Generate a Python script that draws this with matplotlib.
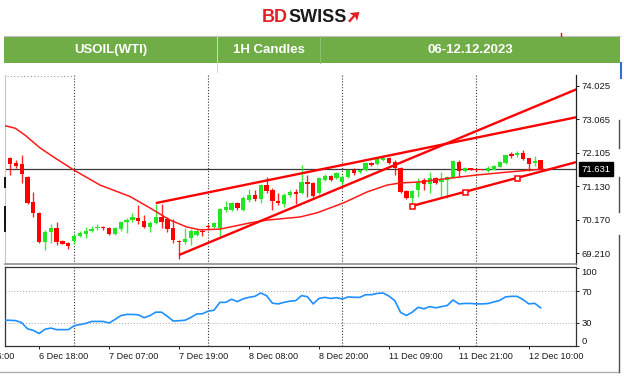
import matplotlib.pyplot as plt
from matplotlib.lines import Line2D
from matplotlib.patches import Rectangle, Polygon

plt.rcParams['font.family'] = ['Liberation Sans', 'DejaVu Sans']

# hourly candles, 23 bars per trading day, index 0 = 6 Dec 13:00
opens = [71.95, 71.81, 71.78, 71.40, 70.68, 70.37, 69.53, 69.82, 69.93, 69.56,
         69.50, 69.56, 69.70, 69.76, 69.85, 69.92, 69.96, 69.93, 69.76, 69.90,
         70.11, 70.16, 70.22, 70.14, 69.96, 70.08, 70.25, 70.19, 69.93, 69.56,
         69.53, 69.65, 69.73, 69.85, 70.00, 69.96, 69.93, 70.45, 70.45, 70.65,
         70.45, 70.74, 70.88, 70.77, 71.17, 71.03, 70.71, 70.62, 70.88, 70.97,
         70.94, 71.26, 71.23, 70.94, 71.32, 71.43, 71.37, 71.26, 71.40, 71.60,
         71.55, 71.60, 71.81, 71.78, 71.89, 71.95, 71.84, 71.66, 71.00, 70.80,
         71.03, 71.32, 71.20, 71.37, 71.27, 71.32, 71.40, 71.84, 71.58, 71.66,
         71.62, 71.63, 71.58, 71.60, 71.69, 71.81, 72.06, 72.04, 72.09, 71.95,
         71.81, 71.89]
highs = [71.98, 71.89, 72.04, 71.43, 70.97, 70.39, 69.88, 70.05, 70.11, 69.59,
         69.53, 69.76, 69.85, 69.96, 69.99, 70.05, 69.99, 69.96, 69.96, 70.14,
         70.22, 70.37, 70.60, 70.31, 70.14, 70.62, 70.62, 70.25, 70.19, 69.59,
         69.93, 69.90, 69.90, 69.90, 70.05, 70.11, 70.51, 70.71, 70.68, 70.68,
         70.86, 71.06, 71.03, 71.20, 71.40, 71.09, 70.94, 70.94, 71.03, 71.06,
         71.75, 71.46, 71.26, 71.40, 71.49, 71.46, 71.55, 71.46, 71.63, 71.66,
         71.63, 71.84, 71.84, 71.95, 71.98, 71.98, 71.89, 71.69, 71.03, 71.03,
         71.37, 71.37, 71.55, 71.40, 71.55, 71.43, 71.89, 71.89, 71.69, 71.66,
         71.63, 71.63, 71.72, 71.75, 71.86, 72.05, 72.12, 72.15, 72.18, 71.95,
         72.01, 71.89]
lows = [71.46, 71.66, 71.23, 70.62, 70.25, 69.50, 69.30, 69.50, 69.44, 69.46,
        69.33, 69.47, 69.67, 69.65, 69.82, 69.88, 69.88, 69.73, 69.73, 69.85,
        69.79, 70.11, 70.05, 69.93, 69.82, 70.05, 69.93, 69.82, 69.50, 69.04,
        69.47, 69.44, 69.70, 69.70, 69.88, 69.93, 69.70, 70.39, 70.42, 70.45,
        70.42, 70.68, 70.71, 70.65, 70.94, 70.45, 70.60, 70.54, 70.83, 70.62,
        70.91, 70.83, 70.83, 70.91, 71.29, 71.29, 71.35, 71.17, 71.37, 71.46,
        71.52, 71.58, 71.72, 71.75, 71.86, 71.78, 71.46, 70.94, 70.77, 70.57,
        70.83, 71.03, 70.94, 71.20, 70.80, 70.80, 71.37, 71.40, 71.55, 71.59,
        71.58, 71.59, 71.55, 71.59, 71.69, 71.78, 71.95, 71.98, 71.89, 71.58,
        71.72, 71.58]
closes = [71.78, 71.72, 71.49, 70.65, 70.37, 69.53, 69.82, 69.93, 69.53, 69.47,
          69.41, 69.70, 69.79, 69.85, 69.90, 69.96, 69.93, 69.76, 69.93, 70.11,
          70.16, 70.25, 70.14, 69.96, 70.08, 70.25, 70.11, 69.90, 69.59, 69.53,
          69.62, 69.85, 69.85, 69.82, 69.96, 70.08, 70.48, 70.54, 70.65, 70.51,
          70.80, 70.88, 70.77, 71.17, 71.00, 70.71, 70.65, 70.88, 70.97, 70.91,
          71.26, 71.20, 70.86, 71.37, 71.43, 71.32, 71.52, 71.40, 71.60, 71.52,
          71.60, 71.81, 71.75, 71.92, 71.95, 71.81, 71.66, 70.97, 70.80, 71.00,
          71.26, 71.20, 71.37, 71.23, 71.32, 71.40, 71.86, 71.58, 71.66, 71.60,
          71.60, 71.60, 71.66, 71.72, 71.84, 72.04, 72.01, 72.09, 71.92, 71.78,
          71.86, 71.631]
last_price = 71.631

# moving average (bar index, price)
ma_x = [-0.86, 0.86, 2.57, 5.15, 7.72, 10.98, 15.44, 20.58, 24.01, 27.44, 30.36,
        32.59, 36.02, 41.17, 44.08, 49.74, 52.66, 57.12, 61.23, 64.67, 66.90,
        70.33, 75.47, 80.10, 85.76, 91.42]
ma_y = [72.88, 72.81, 72.61, 72.24, 71.95, 71.60, 71.17, 70.84, 70.51, 70.16, 69.96,
        69.88, 69.90, 70.08, 70.16, 70.25, 70.37, 70.65, 70.97, 71.17, 71.23,
        71.26, 71.37, 71.46, 71.55, 71.63]

# drawn trend lines: (x0, y0, x1, y1)
trend_lines = [(25.0, 70.65, 97.3, 73.13),
               (29.0, 69.155, 97.3, 73.94),
               (69.0, 70.57, 97.3, 71.84)]
anchor_x = [69, 78, 87]
anchor_y = [70.57, 70.97, 71.37]

# RSI, bar index -1 .. 91
rsi = [33, 33, 32.5, 30, 22, 20, 16, 21.5, 23, 21, 21, 21, 26, 27.5, 29, 31.5,
       31.5, 31.5, 29.5, 34, 39, 40.5, 40.5, 40, 36.3, 39, 43.4, 43.4, 38, 32,
       32.5, 33, 36.5, 41, 41.4, 44.7, 46, 56, 56, 60, 57, 60.5, 62.5, 63.7, 68,
       64.6, 55, 54, 56, 57.5, 58.2, 64.6, 63.3, 54, 61, 62.4, 61, 62, 60.3, 63,
       62.5, 62.4, 65.8, 65.8, 67.5, 68, 64, 58.2, 43, 39.2, 43.4, 49.7, 47.7,
       50.6, 49, 50.5, 52, 59, 54, 54.6, 54.6, 54, 54, 54.5, 56.5, 58.5, 63,
       63.7, 63.7, 59.5, 54, 54.8, 49]
rsi_levels = [70, 30]
rsi_ticks = [100, 70, 30, 0]

price_ticks = [74.025, 73.065, 72.105, 71.130, 70.170, 69.210]
day_start = {'6 Dec': -12, '7 Dec': 11, '8 Dec': 34, '11 Dec': 57, '12 Dec': 80}
time_labels = ['6 Dec 06:00', '6 Dec 18:00', '7 Dec 07:00', '7 Dec 19:00',
               '8 Dec 08:00', '8 Dec 20:00', '11 Dec 09:00', '11 Dec 21:00',
               '12 Dec 10:00']


def bar_index(label):
    day, hm = label.rsplit(' ', 1)
    return day_start[day] + int(hm[:2]) - 1


W, H = 624, 377
fig = plt.figure(figsize=(W / 100, H / 100), dpi=100)


def fx(x):
    return x / W


def fy(y):
    return 1 - y / H


def fig_line(xs, ys, **kw):
    fig.add_artist(Line2D([fx(v) for v in xs], [fy(v) for v in ys],
                          transform=fig.transFigure, **kw))


# logo
fig.text(fx(288), fy(18), 'BD', color='#e31e24', fontsize=13, fontweight='bold',
         ha='right', va='center')
fig.text(fx(288), fy(18), 'SWISS', color='#1a1a1a', fontsize=13, fontweight='bold',
         ha='left', va='center')
arrow = [(349.5, 13), (359.5, 12), (357, 21), (355, 16.5), (350, 22.5), (348, 21), (353, 15.5)]
fig.add_artist(Polygon([(fx(a), fy(b)) for a, b in arrow], closed=True,
                       transform=fig.transFigure, fc='#e31e24', ec='none'))

# header bar
fig_line([4, 620], [36, 36], color='#c0c0c0', lw=0.8)
fig.add_artist(Rectangle((fx(4), fy(63)), fx(616), 26 / H, transform=fig.transFigure,
                         fc='#70ad47', ec='none'))
fig_line([217, 217], [35, 72], color='#d0dcc6', lw=0.7)
fig_line([320, 320], [36, 63], color='#8fbf6f', lw=0.7)
for xc, txt in [(110.5, 'USOIL(WTI)'), (268.5, '1H Candles'), (470, '06-12.12.2023')]:
    fig.text(fx(xc), fy(50), txt, color='white', fontsize=9.5, fontweight='bold',
             ha='center', va='center')
fig_line([561, 561], [33, 36], color='#ff0000', lw=1)
fig_line([621, 621], [63, 78], color='#2f6fd6', lw=1.5)

# frame bits
fig_line([0, 618], [372, 372], color='#b0b0b0', lw=1)
for y0, y1 in [(120, 148), (177, 212), (235, 372)]:
    fig_line([619, 619], [y0, y1], color='#505050', lw=1)
fig_line([7, 77], [76, 76], color='#9a9a9a', lw=0.8, ls=(0, (1, 2)))
for y0, y1 in [(178, 187), (207, 231)]:
    fig_line([4.5, 4.5], [y0, y1], color='#111111', lw=1.4)

# price panel
ax = fig.add_axes([fx(5), fy(264), fx(571), (264 - 75) / H])
xlim = (-0.86, 97.08)
ax.set_xlim(*xlim)
ax.set_ylim(68.895, 74.342)

for i, (o, h, l, c) in enumerate(zip(opens, highs, lows, closes)):
    col = '#22e622' if c >= o else '#ff0000'
    ax.vlines(i, l, h, color=col, lw=1.0, alpha=0.85, zorder=2)
    ax.bar(i, max(abs(c - o), 0.03), bottom=min(o, c), width=0.74, color=col,
           lw=0, zorder=3)

ax.axhline(last_price, color='#3a3a3a', lw=0.9, zorder=1)
for d in ['7 Dec', '8 Dec', '11 Dec', '12 Dec']:
    ax.axvline(day_start[d], color='#333333', lw=0.8, ls=(0, (1, 1.6)), zorder=1)

ax.plot(ma_x, ma_y, color='#ff1a1a', lw=1.1, zorder=4)
for x0, y0, x1, y1 in trend_lines:
    ax.plot([x0, x1], [y0, y1], color='#ff0000', lw=1.7, zorder=5,
            solid_capstyle='butt')
ax.plot(anchor_x, anchor_y, 's', ms=3.6, mfc='white', mec='#ff0000', mew=1.1, zorder=6)

ax.set_xticks([])
ax.yaxis.tick_right()
ax.set_yticks(price_ticks)
ax.set_yticklabels([f'{v:.3f}' for v in price_ticks])
ax.tick_params(axis='y', length=2.5, width=0.7, pad=1.5, labelsize=6.8,
               colors='#1a1a1a')
ax.spines['top'].set_visible(False)
ax.spines['left'].set_color('#c8c8c8')
ax.spines['left'].set_linewidth(0.8)
ax.spines['right'].set_color('#222222')
ax.spines['right'].set_linewidth(0.9)
ax.spines['bottom'].set_color('#909090')
ax.spines['bottom'].set_linewidth(1.2)

ax.annotate(f'{last_price:.3f}', xy=(1, last_price), xycoords=('axes fraction', 'data'),
            xytext=(4, 0), textcoords='offset points', ha='left', va='center',
            color='white', fontsize=6.8, annotation_clip=False,
            bbox=dict(boxstyle='square,pad=0.22', fc='black', ec='black'))

# RSI panel
ax2 = fig.add_axes([fx(5), fy(346), fx(571), (346 - 266.5) / H])
ax2.set_xlim(*xlim)
ax2.set_ylim(0, 102)
ax2.plot(range(-1, len(rsi) - 1), rsi, color='#1e90ff', lw=1.2, zorder=3)
for lv in rsi_levels:
    ax2.axhline(lv, color='#a8a8a8', lw=0.7, ls=(0, (1, 2)), zorder=1)
for d in ['7 Dec', '8 Dec', '11 Dec', '12 Dec']:
    ax2.axvline(day_start[d], color='#333333', lw=0.8, ls=(0, (1, 1.6)), zorder=1)

ax2.yaxis.tick_right()
ax2.set_yticks(rsi_ticks)
ax2.set_yticklabels([str(v) for v in rsi_ticks])
ax2.tick_params(axis='y', length=2.5, width=0.7, pad=1.5, labelsize=6.8,
                colors='#1a1a1a')
for lbl, v in zip(ax2.get_yticklabels(), rsi_ticks):
    if v == 100:
        lbl.set_va('top')
    elif v == 0:
        lbl.set_va('bottom')

pos = [bar_index(t) for t in time_labels]
vis = [(p, t) for p, t in zip(pos, time_labels) if xlim[0] <= p <= xlim[1]]
ax2.set_xticks([p for p, _ in vis])
ax2.set_xticklabels([t for _, t in vis], ha='left')
ax2.tick_params(axis='x', length=2.5, width=0.7, pad=2, labelsize=6.6,
                colors='#1a1a1a')
# the first time label is cut by the left edge in the source screenshot
for p, t in zip(pos, time_labels):
    if p < xlim[0]:
        ax2.annotate(t, xy=(p, 0), xycoords=('data', 'axes fraction'),
                     xytext=(-3, -4.5), textcoords='offset points', ha='left',
                     va='top', fontsize=6.6, color='#1a1a1a', annotation_clip=False)
for s in ['top', 'left', 'right', 'bottom']:
    ax2.spines[s].set_color('#333333')
    ax2.spines[s].set_linewidth(0.9)

fig.savefig('out.png', dpi=100, facecolor='white')
